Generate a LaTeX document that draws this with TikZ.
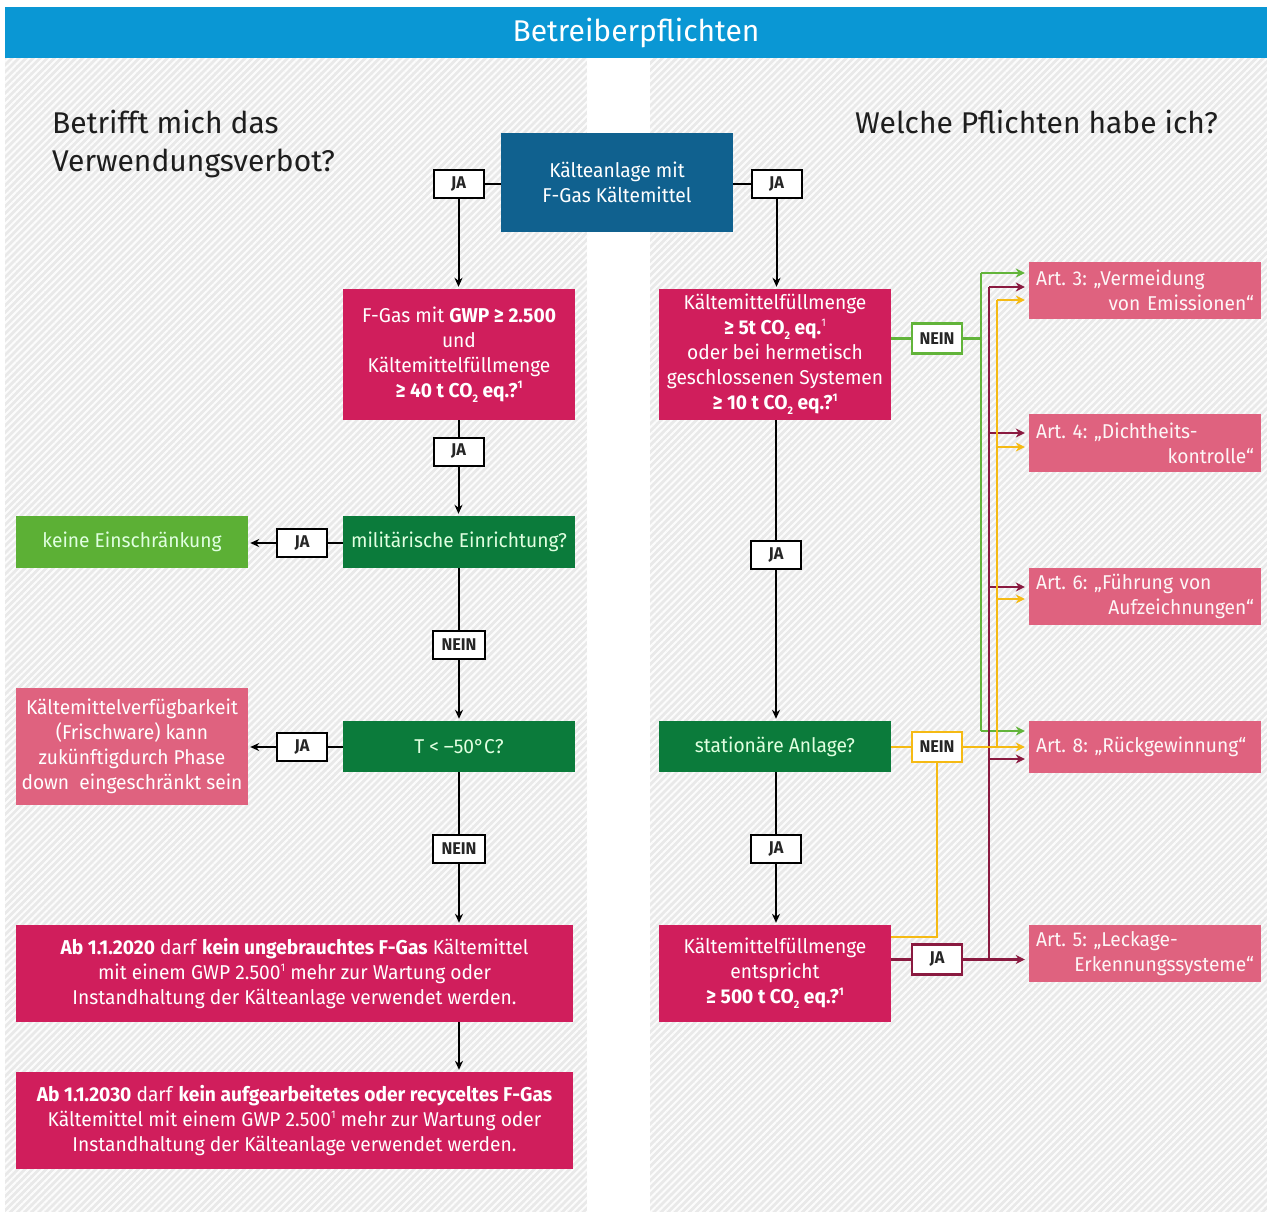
\documentclass[tikz,border=0pt]{standalone}
\usepackage{fontspec}
\setmainfont{Fira Sans}
\newfontfamily\cf[FakeStretch=0.96]{Fira Sans}
\usetikzlibrary{arrows.meta,patterns.meta}
\definecolor{hdrblue}{HTML}{0A97D4}
\definecolor{topblue}{HTML}{10618F}
\definecolor{mag}{HTML}{D01E5C}
\definecolor{pinkb}{HTML}{DF627F}
\definecolor{dkgreen}{HTML}{0B7B3B}
\definecolor{ltgreen}{HTML}{5CB035}
\definecolor{lgreen}{HTML}{62B43A}
\definecolor{maroon}{HTML}{8A1A40}
\definecolor{yel}{HTML}{F5BA14}
\definecolor{panel}{HTML}{E9E9E9}
\definecolor{headtxt}{HTML}{1E1E1E}
\newcommand\hz[1]{\raisebox{0.8ex}{\fontsize{11}{11}\selectfont #1}}
\newcommand\tz[1]{\raisebox{-0.5ex}{\fontsize{11}{11}\selectfont #1}}
\newcommand\boxsetup{\cf\frenchspacing\hyphenpenalty=10000\relax\fontsize{20}{25}\selectfont}
\tikzset{
  box/.style={inner sep=0pt, align=center, text=white, font=\boxsetup},
  magbox/.style={box, fill=mag},
  pinkbox/.style={box, fill=pinkb},
  dgbox/.style={box, fill=dkgreen, text=white!88!green},
  lgbox/.style={box, fill=ltgreen, text=white!88!green},
  artbox/.style={box, fill=pinkb, align=left, text width=218pt, minimum width=232pt, text=white!94!pinkb},
  lbl/.style={draw=black, line width=2pt, fill=white, minimum width=50pt, minimum height=28pt, inner sep=0pt, font=\cf\bfseries\fontsize{17}{17}\selectfont, text=black!85},
  conn/.style={draw=black, line width=2pt},
  arr/.style={conn, -{Stealth[length=9pt,width=8pt]}, shorten >=2pt},
  gl/.style={draw=lgreen, line width=2.5pt},
  ml/.style={draw=maroon, line width=2.5pt},
  yl/.style={draw=yel, line width=2.5pt},
  garr/.style={gl, -{Stealth[length=9pt,width=9pt]}, shorten >=4pt},
  marr/.style={ml, -{Stealth[length=9pt,width=9pt]}, shorten >=4pt},
  yarr/.style={yl, -{Stealth[length=9pt,width=9pt]}, shorten >=4pt},
  heading/.style={font=\fontsize{30}{38}\selectfont, text=headtxt, align=left, inner sep=0pt}
}
\begin{document}
\begin{tikzpicture}[x=1pt,y=-1pt]
\useasboundingbox (0,0) rectangle (1267,1212);
% backgrounds
\fill[white] (0,0) rectangle (1267,1212);
\fill[panel] (5,58) rectangle (587,1212);
\fill[panel] (650,58) rectangle (1267,1212);
\fill[pattern={Lines[angle=45,distance=5pt,line width=2pt]}, pattern color=white!85!panel] (5,58) rectangle (587,1212);
\fill[pattern={Lines[angle=45,distance=5pt,line width=2pt]}, pattern color=white!85!panel] (650,58) rectangle (1267,1212);
\node[fill=hdrblue, minimum width=1262pt, minimum height=51pt, inner sep=0pt, text=white, font=\fontsize{30}{30}\selectfont] (hdr) at (636,32.5) {\raisebox{-2pt}{Betreiberpflichten}};
% headings
\node[heading, anchor=north west] (hl) at (52,110) {Betrifft mich das\\Verwendungsverbot?};
\node[heading, anchor=north west] (hr) at (855,110) {Welche Pflichten habe ich?};
% main boxes
\node[box, fill=topblue, minimum width=232pt, minimum height=99pt] (top) at (617,182.5) {Kälteanlage mit\\F-Gas Kältemittel};
\node[magbox, minimum width=232pt, minimum height=131pt] (fgas) at (459,354.5) {F-Gas mit \textbf{GWP ≥ 2.500}\\und\\Kältemittelfüllmenge\\\textbf{≥ 40 t CO\tz{2} eq.?\hz{1}}};
\node[dgbox, minimum width=232pt, minimum height=52pt] (mil) at (459,542) {militärische Einrichtung?};
\node[lgbox, minimum width=232pt, minimum height=52pt] (keine) at (132,542) {keine Einschränkung};
\node[dgbox, minimum width=232pt, minimum height=51pt] (temp) at (459,746.5) {T < –50°C?};
\node[pinkbox, minimum width=232pt, minimum height=117pt] (verf) at (132,746.5) {Kältemittelverfügbarkeit\\(Frischware) kann\\zukünftigdurch Phase\\down~ eingeschränkt sein};
\node[magbox, minimum width=557pt, minimum height=97pt] (ab20) at (294.5,973.5) {\textbf{Ab 1.1.2020} darf \textbf{kein ungebrauchtes F-Gas} Kältemittel\\mit einem GWP 2.500\hz{1} mehr zur Wartung oder\\Instandhaltung der Kälteanlage verwendet werden.};
\node[magbox, minimum width=557pt, minimum height=97pt] (ab30) at (294.5,1120.5) {\textbf{Ab 1.1.2030} darf \textbf{kein aufgearbeitetes oder recyceltes F-Gas}\\Kältemittel mit einem GWP 2.500\hz{1} mehr zur Wartung oder\\Instandhaltung der Kälteanlage verwendet werden.};
\node[magbox, minimum width=232pt, minimum height=131pt] (kfm) at (775,354.5) {Kältemittelfüllmenge\\\textbf{≥ 5t CO\tz{2} eq.}\hz{1}\\oder bei hermetisch\\geschlossenen Systemen\\\textbf{≥ 10 t CO\tz{2} eq.?\hz{1}}};
\node[dgbox, minimum width=232pt, minimum height=51pt] (stat) at (775,746.5) {stationäre Anlage?};
\node[magbox, minimum width=232pt, minimum height=97pt] (k500) at (775,973.5) {Kältemittelfüllmenge\\entspricht\\\textbf{≥ 500 t CO\tz{2} eq.?\hz{1}}};
% article boxes
\node[artbox, minimum height=57pt] (art3) at (1145,290.5) {Art. 3: „Vermeidung\\\hspace*{\fill}von Emissionen“};
\node[artbox, minimum height=58pt] (art4) at (1145,443) {Art. 4: „Dichtheits-\\\hspace*{\fill}kontrolle“};
\node[artbox, minimum height=57pt] (art6) at (1145,596.5) {Art. 6: „Führung von\\\hspace*{\fill}Aufzeichnungen“};
\node[artbox, minimum height=52pt] (art8) at (1145,747) {Art. 8: „Rückgewinnung“};
\node[artbox, minimum height=57pt] (art5) at (1145,953.5) {Art. 5: „Leckage-\\\hspace*{\fill}Erkennungssysteme“};
% labels
\node[lbl] (ja1) at (458.5,184) {JA};
\node[lbl] (ja2) at (776.5,184) {JA};
\node[lbl] (ja3) at (458.5,451.5) {JA};
\node[lbl] (ja4) at (302,543) {JA};
\node[lbl, minimum width=52pt] (nein1) at (459,644.5) {NEIN};
\node[lbl] (ja5) at (302,747) {JA};
\node[lbl, minimum width=52pt] (nein2) at (459,848.5) {NEIN};
\node[lbl] (ja6) at (776,555) {JA};
\node[lbl] (ja7) at (776,849) {JA};
\node[lbl, draw=lgreen, line width=2.5pt, minimum height=30pt] (neinG) at (937,338.5) {NEIN};
\node[lbl, draw=yel, line width=2.5pt, minimum height=30pt] (neinY) at (937,747) {NEIN};
\node[lbl, draw=maroon, line width=2.5pt, minimum height=30pt] (jaM) at (937,959.5) {JA};
% left column connectors
\draw[conn] (ja1.east) -- (ja1.east -| top.west);
\draw[arr] (ja1.south) -- (ja1.south |- fgas.north);
\draw[conn] (ja2.west) -- (ja2.west -| top.east);
\draw[arr] (ja2.south) -- (ja2.south |- kfm.north);
\draw[conn] (fgas.south -| ja3) -- (ja3.north);
\draw[arr] (ja3.south) -- (ja3.south |- mil.north);
\draw[conn] (ja4.east) -- (ja4.east -| mil.west);
\draw[arr] (ja4.west) -- (ja4.west -| keine.east);
\draw[conn] (mil.south) -- (mil.south |- nein1.north);
\draw[arr] (nein1.south) -- (nein1.south |- temp.north);
\draw[conn] (ja5.east) -- (ja5.east -| temp.west);
\draw[arr] (ja5.west) -- (ja5.west -| verf.east);
\draw[conn] (temp.south) -- (temp.south |- nein2.north);
\draw[arr] (nein2.south) -- (nein2.south |- ab20.north);
\draw[arr] (nein2.south |- ab20.south) -- (nein2.south |- ab30.north);
% right column
\draw[conn] (kfm.south -| ja6) -- (ja6.north);
\draw[arr] (ja6.south) -- (ja6.south |- stat.north);
\draw[conn] (stat.south -| ja7) -- (ja7.north);
\draw[arr] (ja7.south) -- (ja7.south |- k500.north);
% green branch
\coordinate (g1) at (981,273);
\coordinate (g2) at (981,731);
\draw[gl] (neinG.west) -- (neinG.west -| kfm.east);
\draw[gl] (neinG.east) -- (neinG.east -| g1);
\draw[gl] (g1) -- (g2);
\draw[garr] (g1) -- (g1 -| art3.west);
\draw[garr] (g2) -- (g2 -| art8.west);
% maroon branch
\coordinate (m1) at (989,287);
\coordinate (m2) at (989,959.5);
\draw[ml] (jaM.west) -- (jaM.west -| k500.east);
\draw[ml] (m1) -- (m2);
\draw[marr] (m1) -- (m1 -| art3.west);
\draw[marr] (989,433) -- (art4.west |- 0,433);
\draw[marr] (989,587) -- (art6.west |- 0,587);
\draw[marr] (989,759) -- (art8.west |- 0,759);
\draw[marr] (jaM.east) -- (jaM.east -| art5.west);
% yellow branch
\coordinate (y1) at (997,300);
\coordinate (y2) at (997,747);
\coordinate (yk) at (937,937);
\draw[yl] (y1) -- (y2);
\draw[yarr] (y1) -- (y1 -| art3.west);
\draw[yarr] (997,447) -- (art4.west |- 0,447);
\draw[yarr] (997,599) -- (art6.west |- 0,599);
\draw[yl] (neinY.west) -- (neinY.west -| stat.east);
\draw[yarr] (neinY.east) -- (neinY.east -| art8.west);
\draw[yl] (neinY.south) -- (yk) -- (yk -| k500.east);
\end{tikzpicture}
\end{document}
